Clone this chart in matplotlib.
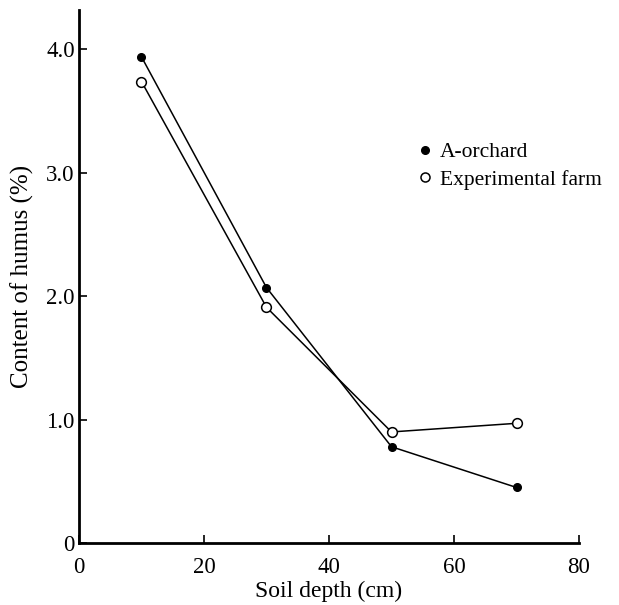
import matplotlib.pyplot as plt
from matplotlib.lines import Line2D

# soil depth (cm) and humus content (%)
depth = [10, 30, 50, 70]
orchard = [3.94, 2.07, 0.78, 0.45]
farm = [3.74, 1.91, 0.90, 0.97]
xticks = [0, 20, 40, 60, 80]
yticks = [0, 1.0, 2.0, 3.0, 4.0]
ylabels = ["0", "1.0", "2.0", "3.0", "4.0"]

plt.rcParams['font.family'] = ['Liberation Serif', 'DejaVu Serif']

fig = plt.figure(figsize=(6.19, 6.05), dpi=100)
ax = fig.add_axes([0.1276, 0.1025, 0.8078, 0.881])

ax.plot(depth, orchard, color='black', lw=1.1, marker='o', ms=5.5,
        mfc='black', mec='black')
ax.plot(depth, farm, color='black', lw=1.1, marker='o', ms=7,
        mfc='white', mec='black', mew=1.1)

ax.set_xlim(0, 80)
ax.set_ylim(0, 4.32)
ax.set_xticks(xticks)
ax.set_yticks(yticks)
ax.set_yticklabels(ylabels)
ax.tick_params(direction='in', length=6, width=1.2, labelsize=16.5)
ax.tick_params(axis='x', pad=10)
ax.tick_params(axis='y', pad=3)

for s in ['top', 'right']:
    ax.spines[s].set_visible(False)
for s in ['left', 'bottom']:
    ax.spines[s].set_linewidth(2)

ax.set_xlabel('Soil depth (cm)', fontsize=17, labelpad=2)
ax.set_ylabel('Content of humus (%)', fontsize=18, labelpad=9)

handles = [
    Line2D([], [], ls='none', marker='o', ms=5.5, mfc='black', mec='black'),
    Line2D([], [], ls='none', marker='o', ms=6.5, mfc='white', mec='black', mew=1.1),
]
ax.legend(handles, ['A-orchard', 'Experimental farm'], loc='center left',
          bbox_to_anchor=(0.64, 0.707), frameon=False,
          handlelength=0.6, handletextpad=0.4, fontsize=15.5, labelspacing=0.35)

fig.savefig('out.png', dpi=100)
